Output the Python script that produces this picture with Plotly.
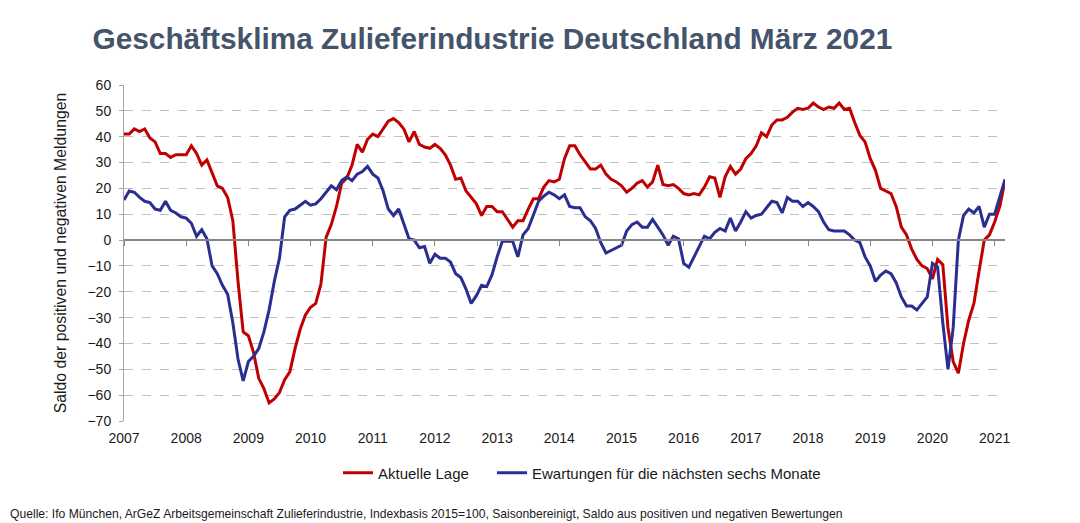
import pandas as pd
import plotly.graph_objects as go

# ---- data (monthly, Jan 2007 .. Mar 2021) ----
months = pd.date_range("2007-01-01", "2021-03-01", freq="MS")

aktuelle_lage = [
    41, 41, 43, 42, 43, 39.5, 38, 33.5, 33.5, 32, 33, 33,                   # 2007
    33, 36.5, 33.5, 29, 31, 26, 21, 20, 16.5, 7.5, -16, -35.5,              # 2008
    -37, -43.5, -53.5, -57.5, -63, -61.5, -59, -54, -51, -42, -34.5, -29,   # 2009
    -26, -24.5, -17, 1, 6, 13, 22, 24, 29, 37, 34, 39,                      # 2010
    41, 40, 43, 46, 47, 45.5, 43, 38, 42, 37, 36, 35.5,                     # 2011
    37, 35.5, 33, 29, 23.5, 24, 19, 16.5, 14, 9.5, 13, 13,                  # 2012
    11, 11, 8, 5, 7.5, 7.5, 12, 16, 16, 20.5, 23, 22.5,                     # 2013
    23.5, 31.5, 36.5, 36.5, 33, 30, 27.5, 27.5, 29, 25.5, 23.5, 22.5,       # 2014
    21, 18.5, 20, 22, 23, 20.5, 22.5, 29, 21.5, 21, 21.5, 20,               # 2015
    18, 17.5, 18, 17.5, 20.5, 24.5, 24, 16.5, 24.5, 28.5, 25.5, 27.5,       # 2016
    31.5, 33.5, 36.5, 41.5, 40, 44.5, 46.5, 46.5, 47.5, 49.5, 51, 50.5,     # 2017
    51, 53, 51.5, 50.5, 51.5, 51, 53, 50.5, 51, 45.5, 40.5, 38,             # 2018
    31.5, 27, 20, 19, 18, 13, 5, 2, -3.5, -7.5, -10, -11,                   # 2019
    -15, -7.5, -9.5, -34, -47, -51.5, -40, -31, -24.5, -12, 0, 2,           # 2020
    7, 13, 23,                                                              # 2021
]

erwartungen = [
    15.5, 19, 18.5, 16.5, 15, 14.5, 12, 11.5, 15, 11.5, 10.5, 9,            # 2007
    8.5, 6.5, 1.5, 4, 0.5, -10, -13, -17.5, -21, -32, -46, -54.5,           # 2008
    -47, -45, -42, -35.5, -27, -16, -7, 9, 11.5, 12, 13.5, 15,              # 2009
    13.5, 14, 16, 18.5, 21, 19.5, 23, 24.5, 23, 25.5, 26.5, 28.5,           # 2010
    25.5, 24, 19, 12, 9.5, 12, 6.5, 0.5, 0, -3, -2.5, -9,                   # 2011
    -5.5, -7, -7, -8.5, -13, -14.5, -19, -24.5, -21.5, -17.5, -18, -13.5,   # 2012
    -6.5, -0.5, -0.5, -0.5, -6.5, 2, 4.5, 9.5, 15, 17, 18.5, 17.5,          # 2013
    16, 17.5, 13, 12.5, 12.5, 9, 7.5, 4.5, -1, -5, -4, -3,                  # 2014
    -2, 3.5, 6, 7, 5, 5, 8, 5, 2, -2, 1.5, 0.5,                             # 2015
    -9, -10.5, -6.5, -2, 1.5, 0.5, 3, 4.5, 3.5, 8.5, 3.5, 7,                # 2016
    11, 8.5, 9.5, 10, 12.5, 15, 14.5, 10.5, 16.5, 15, 15, 13,               # 2017
    14.5, 13, 11, 7, 4, 3.5, 3.5, 3.5, 2, 0, -1, -6.5,                      # 2018
    -10, -16, -13.5, -12, -13, -16.5, -22, -25.5, -25.5, -27, -24.5, -22,   # 2019
    -9, -10.5, -32, -50, -34, 0, 9.5, 12, 10.5, 13, 5, 10,                  # 2020
    10, 17, 23.5,                                                           # 2021
]

tick_years = list(range(2007, 2022))
y_ticks = list(range(-70, 61, 10))

series_names = ["Aktuelle Lage", "Ewartungen für die nächsten sechs Monate"]
series_colors = ["#C00000", "#2B2E91"]
legend_widths = [109, 295]

title_text = "Geschäftsklima Zulieferindustrie Deutschland März 2021"
y_title = "Saldo der positiven und negativen Meldungen"
source_text = ("Quelle: Ifo München, ArGeZ Arbeitsgemeinschaft Zulieferindustrie, "
               "Indexbasis 2015=100, Saisonbereinigt, Saldo aus positiven und negativen Bewertungen")

# ---- figure ----
x = [d.year + (d.month - 1) / 12 for d in months]
FONT = "Liberation Sans, Arial, sans-serif"
TXT = "#1a1a1a"

fig = go.Figure()
for name, vals, col, lw in zip(series_names, [aktuelle_lage, erwartungen], series_colors, legend_widths):
    fig.add_trace(go.Scatter(x=x, y=vals, mode="lines", name=name, legendwidth=lw,
                             line=dict(color=col, width=3)))

x_end = x[-1]
W, H = 1080, 523
ml, mr, mt, mb = 124, 75, 85, 102
pw = W - ml - mr
ph = H - mt - mb
zero_pos = (0 - y_ticks[0]) / (y_ticks[-1] - y_ticks[0])

fig.update_layout(
    width=W, height=H,
    margin=dict(l=ml, r=mr, t=mt, b=mb, autoexpand=False),
    paper_bgcolor="white", plot_bgcolor="white",
    font=dict(family=FONT, size=14, color=TXT),
    title=dict(text=title_text, x=92.5 / W, xanchor="left", xref="container",
               y=1 - 39 / H, yanchor="middle",
               font=dict(family=FONT, size=29.8, color="#44546A", weight="bold")),
    showlegend=True,
    legend=dict(orientation="h", x=(338 - ml) / pw, xanchor="left",
                y=(mt + ph - 473) / ph, yanchor="middle",
                font=dict(size=15, color=TXT), itemwidth=30,
                bgcolor="rgba(0,0,0,0)", tracegroupgap=0),
    xaxis=dict(range=[tick_years[0], x_end], tickvals=tick_years,
               ticktext=[str(t) for t in tick_years], showgrid=False, zeroline=False,
               showline=False, ticks="", ticklabelstandoff=7,
               tickfont=dict(size=14, color=TXT)),
    xaxis2=dict(range=[tick_years[0], x_end], tickvals=tick_years, overlaying="x",
                anchor="free", position=zero_pos, side="bottom", matches="x",
                showline=True, linecolor="#868686", linewidth=1.5,
                ticks="outside", ticklen=5, tickcolor="#868686", tickwidth=1,
                showticklabels=False, showgrid=False, zeroline=False),
    yaxis=dict(range=[y_ticks[0], y_ticks[-1]], tickvals=y_ticks,
               showgrid=True, gridcolor="#C0C0C0", griddash="dash", gridwidth=1,
               zeroline=False, showline=True, linecolor="#A6A6A6", linewidth=1,
               ticks="outside", ticklen=4, tickcolor="#A6A6A6", ticklabelstandoff=5,
               tickfont=dict(size=14, color=TXT),
               title=dict(text=y_title, font=dict(size=15.8, color=TXT), standoff=16)),
)

# invisible helper trace so that the zero-line axis (xaxis2) is rendered
fig.add_trace(go.Scatter(x=[x[0]], y=[0], xaxis="x2", mode="markers",
                         marker=dict(opacity=0), showlegend=False, hoverinfo="skip"))

fig.add_annotation(text=source_text, xref="paper", yref="paper",
                   x=(8 - ml) / pw, xanchor="left", y=(mt + ph - 514) / ph, yanchor="middle",
                   showarrow=False, font=dict(size=12.15, color=TXT))

fig.write_html("out.html", config={"displayModeBar": False},
               post_script="document.body.style.margin='0';")
